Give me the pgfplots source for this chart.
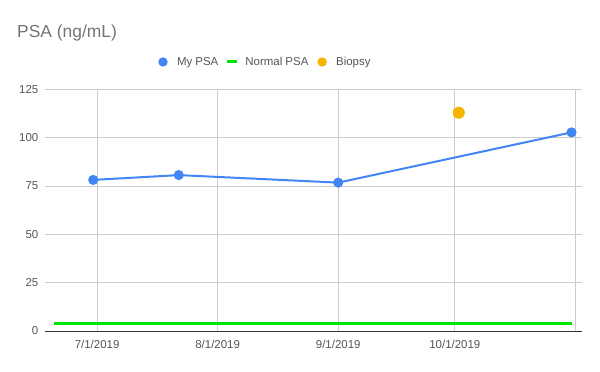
\documentclass[border=0pt]{standalone}
\usepackage{fontspec}
\setmainfont{Liberation Sans}
\usepackage{pgfplots}
\pgfplotsset{compat=1.18}
\definecolor{myblue}{HTML}{4285F4}
\definecolor{mygreen}{HTML}{00E600}
\definecolor{myorange}{HTML}{F4B400}
\definecolor{gridgray}{HTML}{CCCCCC}
\definecolor{titlegray}{HTML}{757575}
\definecolor{labelgray}{HTML}{555555}
\definecolor{axisdark}{HTML}{333333}
\begin{document}
\begin{tikzpicture}[x=1bp,y=1bp]
\path[use as bounding box] (0,0) rectangle (600,371);
\node[anchor=base west, inner sep=0pt, text=titlegray, font=\fontsize{17.5}{21}\selectfont] at (17,333.3) {PSA (ng/mL)};
\begin{axis}[
  at={(45bp,40bp)}, anchor=south west,
  scale only axis, width=537bp, height=241.5bp,
  xmin=-13.4, xmax=124.7, ymin=0, ymax=125,
  ytick={0,25,50,75,100,125},
  xtick={0,31,62,92,123},
  xticklabels={7/1/2019,8/1/2019,9/1/2019,10/1/2019,{}},
  major tick length=0pt,
  grid=major,
  grid style={gridgray, line width=0.9bp},
  axis line style={draw=none},
  tick label style={font=\fontsize{11.5}{14}\selectfont, text=labelgray},
  /pgf/number format/assume math mode=true,
  yticklabel style={anchor=east, inner sep=0pt, xshift=-6.5bp},
  xticklabel style={anchor=north, inner sep=0pt, yshift=-9bp},
  clip=false,
  legend style={at={(0.211,1.114)}, anchor=west, draw=none, fill=none,
    legend columns=3, inner sep=0pt, outer sep=0pt,
    font=\fontsize{11.5}{14}\selectfont,
    nodes={inner sep=0pt, text=labelgray, text height=8.6bp, text depth=2.5bp},
    /tikz/every even column/.append style={column sep=9bp}},
  legend cell align=left,
]
\addplot[mygreen, line width=2.6bp, forget plot] coordinates {(-11,4) (122,4)};
\addplot[myblue, line width=2bp, mark=*, mark size=4bp, mark options={solid, fill=myblue, draw=none},
  legend image code/.code={\path[draw=none,fill=none] (-4.7bp,-4.7bp) rectangle (14bp,4.7bp); \fill[myblue, draw=none] (0,0) circle (4.7bp);}]
  coordinates {(-1,78.2) (21,80.7) (62,76.8) (122,102.8)};
\addlegendentry{My PSA}
\addlegendimage{legend image code/.code={\path[draw=none,fill=none] (0,-4.7bp) rectangle (18bp,4.7bp); \fill[mygreen, draw=none] (0,-1.5bp) rectangle (10bp,1.5bp);}}
\addlegendentry{Normal PSA}
\addplot[myorange, only marks, mark=*, mark size=5.8bp, mark options={fill=myorange, draw=none},
  legend image code/.code={\path[draw=none,fill=none] (-4.7bp,-4.7bp) rectangle (14bp,4.7bp); \fill[myorange, draw=none] (0,0) circle (4.7bp);}]
  coordinates {(93,113)};
\addlegendentry{Biopsy}
\draw[axisdark, line width=1bp] (rel axis cs:0,0) -- (rel axis cs:1,0);
\end{axis}
\end{tikzpicture}
\end{document}
